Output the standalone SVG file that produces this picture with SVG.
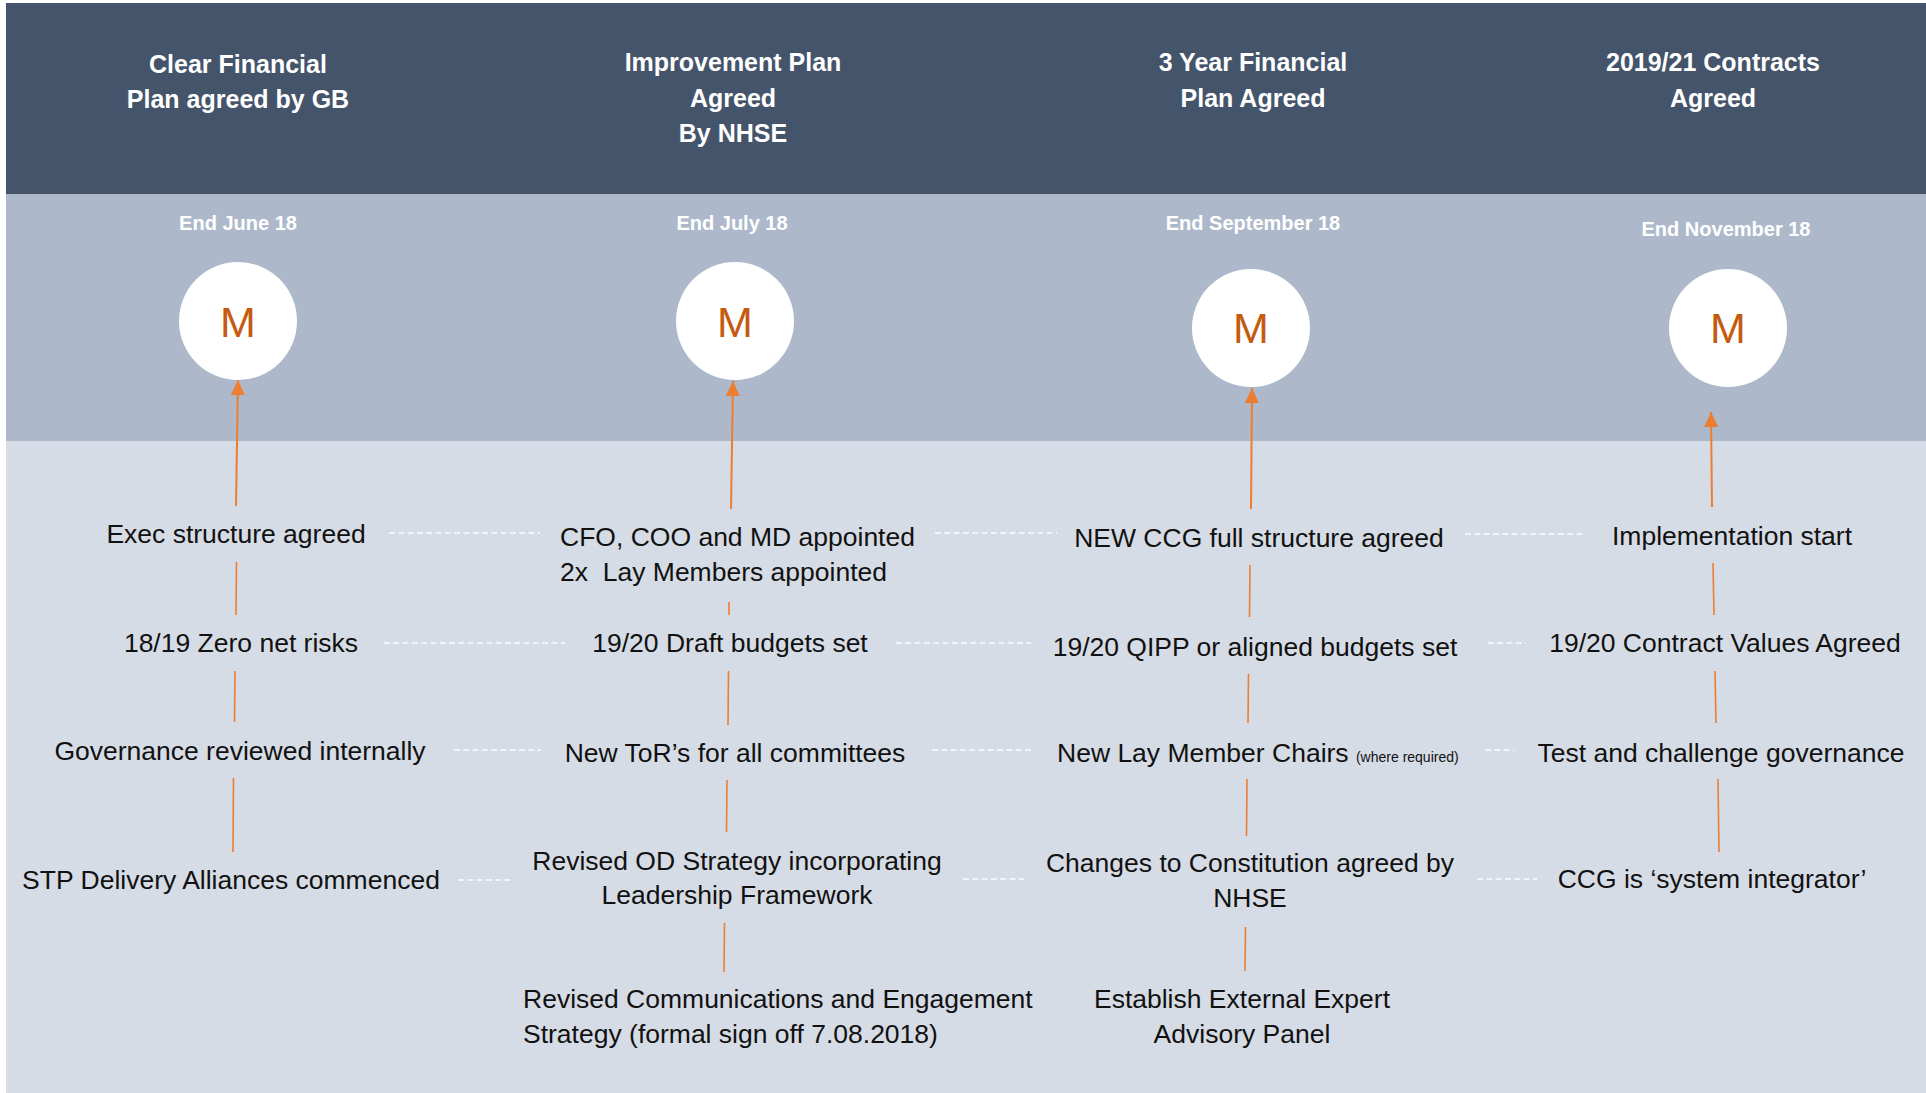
<svg xmlns="http://www.w3.org/2000/svg" width="1926" height="1093" viewBox="0 0 1926 1093">
<style>
.hd{font-family:"Liberation Sans",Arial,sans-serif;font-weight:bold;font-size:25px;fill:#ffffff;text-anchor:middle}
.dt{font-family:"Liberation Sans",Arial,sans-serif;font-weight:bold;font-size:20px;fill:#ffffff;text-anchor:middle}
.m{font-family:"Liberation Sans",Arial,sans-serif;font-size:43px;fill:#C55A11;text-anchor:middle}
.tx{font-family:"Liberation Sans",Arial,sans-serif;font-size:26.5px;fill:#111111}
.c{text-anchor:middle}
.sm{font-size:14px}
.ms{fill:#ffffff}
.arr{stroke:#ED7D31;stroke-width:2;fill:none}
.vl{stroke:#ED7D31;stroke-width:1.6;fill:none}
.dl{stroke:#ffffff;stroke-opacity:0.9;stroke-width:1.4;stroke-dasharray:6 3.3;fill:none}
</style>
<defs>
<marker id="ah" markerUnits="userSpaceOnUse" markerWidth="16" markerHeight="15" refX="15" refY="7" orient="auto">
<path d="M0,0 L15,7 L0,14 z" fill="#ED7D31"/>
</marker>
</defs>
<rect x="0" y="0" width="1926" height="1093" fill="#ffffff"/>
<rect x="6" y="3" width="1920" height="191" fill="#44546A"/>
<rect x="6" y="194" width="1920" height="247" fill="#ADB9CA"/>
<rect x="6" y="441" width="1920" height="652" fill="#D6DCE5"/>

<g id="header-1"><text class="hd" x="238" y="73">Clear Financial</text><text class="hd" x="238" y="108">Plan agreed by GB</text></g>
<g id="header-2"><text class="hd" x="733" y="71">Improvement Plan</text><text class="hd" x="733" y="107">Agreed</text><text class="hd" x="733" y="142">By NHSE</text></g>
<g id="header-3"><text class="hd" x="1253" y="71">3 Year Financial</text><text class="hd" x="1253" y="107">Plan Agreed</text></g>
<g id="header-4"><text class="hd" x="1713" y="71">2019/21 Contracts</text><text class="hd" x="1713" y="107">Agreed</text></g>

<g id="milestone-1"><text class="dt" x="238" y="230">End June 18</text><circle class="ms" cx="238" cy="321" r="59"/><text class="m" x="238" y="337">M</text></g>
<g id="milestone-2"><text class="dt" x="732" y="230">End July 18</text><circle class="ms" cx="735" cy="321" r="59"/><text class="m" x="735" y="337">M</text></g>
<g id="milestone-3"><text class="dt" x="1253" y="230">End September 18</text><circle class="ms" cx="1251" cy="328" r="59"/><text class="m" x="1251" y="343">M</text></g>
<g id="milestone-4"><text class="dt" x="1726" y="236">End November 18</text><circle class="ms" cx="1728" cy="328" r="59"/><text class="m" x="1728" y="343">M</text></g>

<g id="connectors">
<line class="arr" x1="236" y1="506" x2="238" y2="380" marker-end="url(#ah)"/>
<line class="arr" x1="731" y1="509" x2="733" y2="381" marker-end="url(#ah)"/>
<line class="arr" x1="1251" y1="509" x2="1252" y2="388" marker-end="url(#ah)"/>
<line class="arr" x1="1712" y1="507" x2="1711" y2="412" marker-end="url(#ah)"/>

<line class="vl" x1="236.5" y1="562" x2="236" y2="615"/>
<line class="vl" x1="235" y1="671" x2="234.5" y2="722"/>
<line class="vl" x1="233.5" y1="778" x2="233" y2="852"/>
<line class="vl" x1="729" y1="602" x2="729" y2="615"/>
<line class="vl" x1="728.5" y1="671" x2="728" y2="725"/>
<line class="vl" x1="727" y1="780" x2="726.5" y2="832"/>
<line class="vl" x1="724.5" y1="923" x2="724" y2="972"/>
<line class="vl" x1="1250" y1="565" x2="1249.5" y2="617"/>
<line class="vl" x1="1248.5" y1="674" x2="1248" y2="723"/>
<line class="vl" x1="1247" y1="779" x2="1246.5" y2="836"/>
<line class="vl" x1="1245.5" y1="927" x2="1245" y2="971"/>
<line class="vl" x1="1713" y1="563" x2="1714" y2="615"/>
<line class="vl" x1="1715" y1="671" x2="1716" y2="723"/>
<line class="vl" x1="1718" y1="779" x2="1719" y2="852"/>

<line class="dl" x1="389" y1="533" x2="540" y2="533"/>
<line class="dl" x1="935" y1="533" x2="1057" y2="533"/>
<line class="dl" x1="1465" y1="534" x2="1586" y2="534"/>
<line class="dl" x1="384" y1="643" x2="565" y2="643"/>
<line class="dl" x1="896" y1="643" x2="1031" y2="643"/>
<line class="dl" x1="1488" y1="643" x2="1526" y2="643"/>
<line class="dl" x1="454" y1="750" x2="541" y2="750"/>
<line class="dl" x1="932" y1="750" x2="1035" y2="750"/>
<line class="dl" x1="1485" y1="750" x2="1514" y2="750"/>
<line class="dl" x1="458" y1="880" x2="510" y2="880"/>
<line class="dl" x1="963" y1="879" x2="1024" y2="879"/>
<line class="dl" x1="1477" y1="879" x2="1537" y2="879"/>
</g>

<g id="task-1-1"><text class="tx c" x="236" y="543">Exec structure agreed</text></g>
<g id="task-1-2"><text class="tx c" x="241" y="652">18/19 Zero net risks</text></g>
<g id="task-1-3"><text class="tx c" x="240" y="760">Governance reviewed internally</text></g>
<g id="task-1-4"><text class="tx c" x="231" y="889">STP Delivery Alliances commenced</text></g>

<g id="task-2-1"><text class="tx" x="560" y="546">CFO, COO and MD appointed</text><text class="tx" x="560" y="581" xml:space="preserve">2x  Lay Members appointed</text></g>
<g id="task-2-2"><text class="tx c" x="730" y="652">19/20 Draft budgets set</text></g>
<g id="task-2-3"><text class="tx c" x="735" y="762">New ToR’s for all committees</text></g>
<g id="task-2-4"><text class="tx c" x="737" y="870">Revised OD Strategy incorporating</text><text class="tx c" x="737" y="904">Leadership Framework</text></g>
<g id="task-2-5"><text class="tx" x="523" y="1008">Revised Communications and Engagement</text><text class="tx" x="523" y="1043">Strategy (formal sign off 7.08.2018)</text></g>

<g id="task-3-1"><text class="tx c" x="1259" y="547">NEW CCG full structure agreed</text></g>
<g id="task-3-2"><text class="tx c" x="1255" y="656">19/20 QIPP or aligned budgets set</text></g>
<g id="task-3-3"><text class="tx" x="1057" y="762">New Lay Member Chairs <tspan class="sm">(where required)</tspan></text></g>
<g id="task-3-4"><text class="tx c" x="1250" y="872">Changes to Constitution agreed by</text><text class="tx c" x="1250" y="907">NHSE</text></g>
<g id="task-3-5"><text class="tx c" x="1242" y="1008">Establish External Expert</text><text class="tx c" x="1242" y="1043">Advisory Panel</text></g>

<g id="task-4-1"><text class="tx c" x="1732" y="545">Implementation start</text></g>
<g id="task-4-2"><text class="tx c" x="1725" y="652">19/20 Contract Values Agreed</text></g>
<g id="task-4-3"><text class="tx c" x="1721" y="762">Test and challenge governance</text></g>
<g id="task-4-4"><text class="tx c" x="1712" y="888">CCG is ‘system integrator’</text></g>
</svg>
